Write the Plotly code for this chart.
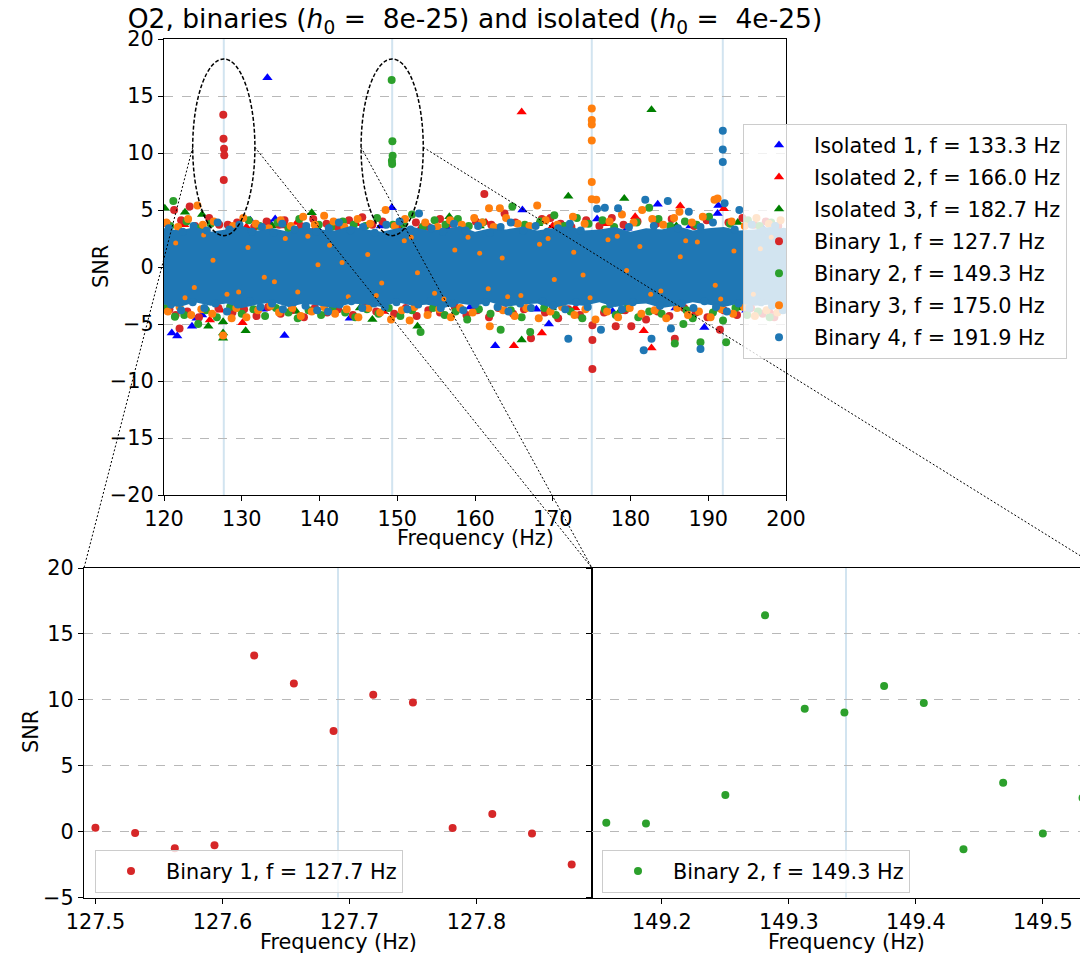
import plotly.graph_objects as go

W, H = 1088, 957          # browser window
OFF = 8                   # page body margin in the browser
FW, FH = W - OFF, H - OFF  # figure size so the figure exactly fills the window
FONT = "DejaVu Sans"

# ------------------------------------------------------------------ data
bin_freqs = [127.691, 149.345, 175.02, 191.87]
bin_labels = ["Binary 1, f = 127.7 Hz", "Binary 2, f = 149.3 Hz",
              "Binary 3, f = 175.0 Hz", "Binary 4, f = 191.9 Hz"]
iso_labels = ["Isolated 1, f = 133.3 Hz", "Isolated 2, f = 166.0 Hz",
              "Isolated 3, f = 182.7 Hz"]

# zoomed windows around binaries 1 and 2
bin1_zoom_f = [127.5, 127.53125, 127.5625, 127.59375, 127.625, 127.65625, 127.6875,
               127.71875, 127.75, 127.78125, 127.8125, 127.84375, 127.875]
bin1_zoom_snr = [0.30, -0.10, -1.26, -1.04, 13.36, 11.24, 7.63, 10.38, 9.80, 0.28,
                 1.34, -0.15, -2.50]
bin2_zoom_f = [149.15625, 149.1875, 149.25, 149.28125, 149.3125, 149.34375, 149.375,
               149.40625, 149.4375, 149.46875, 149.5, 149.53125]
bin2_zoom_snr = [0.68, 0.61, 2.78, 16.41, 9.32, 9.04, 11.04, 9.75, -1.34, 3.71, -0.15, 2.55]

# Isolated 1 (blue triangles)
iso1_f = [133.3, 149.3, 131.1, 134.3, 133.7, 166.1, 183.5, 191.3, 191.2, 175.7,
          121.0, 121.7, 123.6, 124.2, 124.9, 135.5, 143.9, 162.6, 169.5, 189.5,
          128.6, 139.7, 147.9, 156.3, 171.3, 179.6, 187.7, 196.9,
          132.7, 141.7, 150.9, 159.4, 167.9, 177.7, 185.8, 194.9]
iso1_snr = [16.6, 5.2, 4.1, 4.2, 3.8, 5.0, 5.5, 5.4, 4.7, 4.2,
            -5.8, -6.05, -5.2, -4.5, -4.2, -6.0, -4.5, -6.9, -5.0, -5.3,
            3.5, 3.4, 3.6, 3.5, 3.7, 3.4, 3.6, 3.5,
            -3.7, -3.6, -3.8, -3.5, -3.7, -3.9, -3.6, -3.8]

# Isolated 2 (red triangles)
iso2_f = [166.0, 137.1, 135.7, 186.4, 192.0, 180.6, 139.1,
          125.9, 130.1, 165.0, 168.6, 182.7, 181.7,
          122.6, 130.6, 144.7, 153.1, 161.4, 170.0, 176.9, 195.2,
          127.3, 134.0, 148.2, 155.0, 163.9, 172.9, 187.9, 198.0]
iso2_snr = [13.6, 3.9, 3.6, 5.35, 5.1, 4.4, 3.1,
            -4.65, -4.9, -6.9, -5.8, -7.1, -5.6,
            3.7, 3.5, 3.8, 3.5, 3.9, 3.6, 3.8, 3.7,
            -3.8, -3.5, -3.9, -3.6, -3.8, -3.6, -3.7, -3.9]

# Isolated 3 (green triangles)
iso3_f = [182.7, 120.1, 122.7, 124.9, 139.0, 156.7, 172.0, 179.2,
          125.7, 127.6, 127.6, 127.6, 130.5, 146.8, 152.6, 166.0,
          133.9, 142.8, 150.2, 160.6, 168.1, 185.9, 193.8, 198.8,
          129.8, 137.0, 145.2, 157.7, 169.9, 178.6, 190.9, 194.2]
iso3_snr = [13.8, 5.15, 4.8, 4.6, 4.76, 4.4, 6.2, 6.0,
            -5.2, -4.8, -5.8, -6.25, -5.6, -4.6, -5.2, -6.4,
            3.6, 3.7, 3.5, 3.6, 3.8, 3.6, 3.9, 3.5,
            -3.7, -3.9, -3.6, -3.8, -3.6, -3.9, -3.7, -3.6]

# Binary 1 (red circles), other than the zoomed window
bin1_other_f = [121.3, 123.3, 127.1, 128.2, 135.5, 145.5, 161.2, 163.8, 169.7,
                122.0, 167.2, 175.1, 175.1, 175.1, 185.7, 191.5, 178.1, 180.1,
                120.4, 122.2, 124.0, 125.8, 129.4, 131.6, 133.2, 134.8, 137.6, 139.2,
                140.9, 142.3, 143.8, 146.8, 148.1, 150.0, 152.4, 154.0, 155.5, 157.0,
                158.6, 160.1, 162.1, 165.2, 166.8, 168.6, 171.0, 172.4, 174.3, 176.0,
                177.6, 179.1, 180.9, 183.3, 185.3, 188.2, 189.8, 192.6, 194.4, 195.9,
                197.4, 199.0,
                120.7, 121.5, 123.0, 124.5, 127.0, 128.8, 130.3, 131.9, 133.4, 135.0,
                136.4, 138.0, 139.4, 141.0, 142.4, 144.3, 145.8, 147.3, 149.6, 151.1,
                152.5, 154.0, 155.5, 157.4, 158.9, 160.3, 161.8, 163.0, 164.9, 166.3,
                169.0, 170.7, 172.0, 173.5, 176.6, 179.3, 182.0, 183.5, 185.0, 186.9,
                188.4, 189.9, 192.0, 193.7, 195.5, 197.0, 198.5, 199.8]
bin1_other_snr = [5.0, 5.3, 3.7, 3.7, 4.1, 4.36, 6.4, 4.7, 4.3,
                  -5.4, -6.25, -5.1, -6.4, -8.95, -6.3, -5.5, -5.2, -5.2,
                  3.8, 4.1, 3.6, 4.3, 3.9, 3.5, 4.0, 3.7, 3.6, 4.2,
                  3.8, 3.5, 4.1, 3.7, 4.0, 3.6, 3.9, 3.5, 4.2, 3.8,
                  3.4, 4.0, 3.7, 3.9, 3.5, 4.2, 3.8, 3.5, 4.1, 3.6,
                  4.3, 3.7, 4.0, 3.8, 4.2, 3.6, 4.1, 3.9, 4.3, 3.7,
                  4.0, 3.6,
                  -3.7, -4.2, -3.9, -4.4, -3.6, -4.0, -3.7, -4.3, -3.5, -4.1,
                  -3.8, -4.4, -3.6, -4.0, -3.7, -4.2, -3.5, -3.9, -4.1, -3.6,
                  -4.3, -3.8, -4.0, -3.5, -4.2, -3.8, -4.4, -3.6, -4.1, -3.7,
                  -4.0, -4.5, -3.7, -4.2, -4.0, -3.8, -4.6, -3.9, -4.3, -3.6,
                  -4.0, -4.4, -3.8, -4.2, -3.6, -4.1, -4.4, -3.7]

# Binary 2 (green circles), other than the zoomed window
bin2_other_f = [121.2, 144.4, 151.9, 164.8, 170.2, 182.4,
                124.4, 153.0, 121.4, 163.3, 167.1, 185.7, 189.0, 192.3, 186.8,
                120.8, 122.9, 124.6, 126.0, 129.0, 130.9, 132.3, 134.6, 136.0, 137.4,
                139.9, 141.5, 143.0, 145.9, 147.4, 150.8, 153.3, 154.8, 156.2, 157.8,
                159.2, 161.0, 162.7, 166.4, 168.4, 171.5, 173.1, 174.6, 176.4, 177.9,
                180.8, 183.6, 185.1, 187.0, 188.5, 190.1, 192.8, 195.1, 196.6, 198.1,
                120.2, 122.6, 125.4, 126.8, 128.5, 130.0, 131.5, 133.0, 134.4, 136.0,
                137.2, 138.6, 140.2, 141.7, 143.3, 144.6, 146.1, 147.6, 148.9, 150.4,
                151.9, 154.6, 156.1, 157.5, 159.0, 160.5, 162.0, 164.6, 166.0, 168.9,
                170.4, 172.3, 173.8, 176.7, 178.1, 179.6, 181.0, 182.4, 184.0, 187.2,
                188.0, 190.6, 191.9, 193.5, 195.0, 196.4, 197.9, 199.4]
bin2_other_snr = [5.8, 3.7, 4.6, 5.3, 4.55, 5.2,
                  -5.0, -5.7, -4.36, -5.5, -5.7, -6.7, -6.6, -6.6, -5.0,
                  3.6, 4.0, 3.4, 3.8, 3.5, 4.1, 3.6, 3.9, 3.4, 4.2,
                  3.7, 3.5, 4.0, 3.6, 4.3, 3.8, 3.5, 4.1, 3.7, 4.2,
                  3.6, 3.9, 3.4, 3.7, 4.0, 3.6, 4.3, 3.8, 4.1, 3.5,
                  3.9, 4.2, 3.6, 4.0, 3.7, 4.4, 3.8, 4.1, 3.6, 3.9,
                  -3.6, -4.2, -3.8, -4.4, -3.5, -4.1, -3.7, -4.3, -3.6, -4.0,
                  -4.5, -3.8, -4.2, -3.5, -4.0, -4.4, -3.7, -4.1, -3.6, -4.3,
                  -3.8, -3.6, -4.2, -3.9, -4.6, -3.7, -4.1, -3.8, -4.4, -3.6,
                  -4.2, -3.9, -4.5, -3.7, -4.2, -3.6, -4.4, -3.9, -4.1, -3.8,
                  -4.5, -4.0, -4.7, -3.6, -4.2, -3.9, -4.4, -3.7]

# Binary 3 (orange circles)
bin3_f = [175.02, 175.02, 175.02, 175.02, 175.02, 175.02,
          124.3, 140.6, 148.5, 159.9, 161.8, 163.2, 168.0, 175.6, 181.5, 186.3, 190.8, 191.2,
          127.6, 128.7, 151.6, 161.9,
          120.3, 121.8, 123.1, 125.0, 126.4, 128.9, 130.2, 131.8, 133.5, 135.0,
          136.3, 137.9, 139.4, 141.8, 143.2, 144.9, 146.5, 149.7, 151.0, 153.6,
          155.2, 156.8, 158.3, 160.9, 162.4, 164.0, 165.5, 167.0, 169.1, 170.6,
          172.6, 174.1, 177.3, 178.9, 180.4, 182.8, 184.2, 185.6, 187.9, 189.3,
          193.0, 194.7, 196.2, 197.8, 199.3,
          120.5, 122.0, 123.5, 124.8, 126.2, 129.3, 130.6, 132.1, 133.7, 134.8,
          136.5, 137.6, 139.0, 140.6, 142.0, 143.5, 145.0, 146.3, 147.8, 149.2,
          150.6, 152.2, 153.9, 155.4, 156.9, 158.1, 159.7, 163.6, 165.1, 166.6,
          168.2, 169.7, 171.2, 172.8, 174.2, 175.5, 177.0, 178.4, 179.9, 181.4,
          183.1, 184.6, 186.0, 187.4, 188.8, 190.3, 191.7, 193.2, 194.6, 196.0,
          197.5, 198.9]
bin3_snr = [13.9, 12.9, 12.5, 11.1, 7.46, 5.94,
            5.4, 4.5, 5.0, 4.3, 5.15, 5.15, 5.4, 5.9, 5.0, 4.85, 5.9, 6.0,
            -6.0, -4.5, -4.7, -5.2,
            3.9, 3.5, 4.2, 3.7, 4.0, 3.6, 4.3, 3.8, 3.4, 4.1,
            3.6, 4.4, 3.7, 4.0, 3.5, 4.2, 3.8, 3.6, 4.2, 3.9,
            3.5, 4.1, 3.7, 3.9, 3.5, 4.3, 3.8, 3.6, 4.1, 3.7,
            4.4, 3.8, 4.0, 4.6, 3.9, 4.2, 3.7, 4.3, 3.9, 4.4,
            4.0, 3.6, 4.3, 3.8, 4.1,
            -3.9, -3.5, -4.2, -3.7, -4.1, -3.6, -4.4, -3.8, -3.4, -4.0,
            -3.6, -4.3, -3.9, -3.5, -4.1, -3.7, -4.4, -3.6, -4.0, -4.6,
            -3.8, -3.5, -4.2, -3.7, -4.4, -3.6, -4.0, -3.8, -4.3, -3.6,
            -4.5, -3.9, -3.5, -4.2, -3.7, -4.6, -3.9, -4.4, -3.6, -4.1,
            -3.8, -4.5, -3.6, -4.2, -3.9, -4.4, -3.7, -4.1, -3.5, -4.3,
            -3.8, -4.0]

# Binary 3 points showing through gaps of the dense binary-4 band
speck_f = [121.5, 123.9, 126.3, 128.1, 130.8, 132.9, 135.6, 137.2, 139.8, 141.3,
           143.7, 146.2, 148.0, 150.9, 152.6, 154.8, 157.4, 159.1, 161.7, 163.5,
           165.9, 168.3, 170.2, 172.7, 174.8, 177.1, 179.5, 181.2, 183.9, 186.4,
           188.6, 190.9, 193.3, 195.8, 198.1, 122.7, 125.1, 129.6, 134.2, 138.5,
           142.9, 147.3, 151.8, 156.0, 160.6, 164.2, 169.4, 173.9, 178.3, 182.6,
           187.1, 191.6, 196.7]
speck_snr = [2.1, -1.8, 0.6, -2.4, 1.7, -0.9, 2.5, -2.2, 0.2, 1.9,
             -2.6, 1.1, -1.4, 2.3, -0.5, -2.3, 1.5, 2.6, -1.9, 0.8,
             -2.5, 2.0, -1.1, 1.3, -2.7, 2.4, -0.3, 1.8, -2.1, 0.9,
             2.2, -1.6, 1.4, -2.4, 2.6, -2.7, 2.8, -2.2, -1.3, 2.7,
             0.4, -2.5, 2.6, -2.8, 1.2, -2.6, 2.5, -0.7, 2.7, -2.4,
             2.3, -2.8, 1.6]

# Binary 4 (blue circles): dense noise band envelope + edge / outlier points
band_f = [120, 122, 124, 126, 128, 130, 132, 134, 136, 138, 140, 142, 144, 146,
          148, 150, 152, 154, 156, 158, 160, 162, 164, 166, 168, 170, 172, 174,
          176, 178, 180, 182, 184, 186, 188, 190, 192, 194, 196, 198, 200]
band_upper = [3.4, 3.2, 3.5, 3.1, 3.3, 3.6, 3.2, 3.4, 3.1, 3.5, 3.3, 3.2, 3.6, 3.3,
              3.1, 3.4, 3.5, 3.2, 3.3, 3.6, 3.1, 3.4, 3.3, 3.5, 3.2, 3.4, 3.6, 3.2,
              3.3, 3.5, 3.1, 3.4, 3.3, 3.6, 3.2, 3.4, 3.5, 3.2, 3.3, 3.5, 3.3]
band_lower = [-3.3, -3.5, -3.1, -3.4, -3.2, -3.6, -3.3, -3.1, -3.5, -3.2, -3.4, -3.6,
              -3.2, -3.3, -3.5, -3.1, -3.4, -3.3, -3.6, -3.2, -3.4, -3.1, -3.5, -3.3,
              -3.2, -3.6, -3.3, -3.4, -3.1, -3.5, -3.3, -3.2, -3.6, -3.4, -3.1, -3.3,
              -3.5, -3.2, -3.4, -3.3, -3.5]
bin4_f = [191.87, 191.87, 191.87,
          120.6, 122.4, 123.8, 125.5, 126.9, 128.4, 129.7, 131.3, 132.6, 134.1,
          135.2, 136.8, 138.3, 139.6, 141.2, 142.5, 144.0, 145.6, 147.1, 148.6,
          150.3, 151.7, 152.8, 154.4, 155.9, 157.3, 158.8, 160.4, 161.9, 163.3,
          164.6, 166.2, 167.8, 169.3, 170.7, 172.2, 173.6, 175.7, 176.7, 178.4,
          179.8, 181.9, 183.0, 184.8, 186.1, 187.5, 189.0, 190.6, 192.1, 193.4,
          194.0, 195.6, 197.1, 198.6, 199.7,
          120.9, 122.2, 123.7, 125.2, 126.6, 128.1, 129.5, 131.0, 132.4, 133.9,
          135.3, 136.7, 138.2, 139.7, 141.1, 142.6, 144.1, 145.5, 147.0, 148.4,
          149.9, 151.3, 152.7, 154.2, 155.6, 157.1, 158.5, 160.0, 161.4, 162.9,
          164.3, 165.8, 167.2, 168.7, 170.1, 171.6, 172.0, 173.0, 174.5, 176.2,
          177.4, 178.9, 180.3, 181.7, 182.7, 183.8, 185.2, 186.6, 188.1, 189.0,
          189.5, 191.0, 192.4, 193.9, 195.3, 196.8, 198.2, 199.6]
bin4_snr = [11.96, 10.3, 9.2,
            3.4, 3.1, 3.6, 3.2, 3.9, 3.3, 3.7, 3.1, 3.5, 3.0,
            3.8, 3.3, 3.6, 3.1, 3.4, 3.9, 3.2, 3.5, 3.0, 3.7,
            4.0, 3.3, 4.7, 3.4, 3.1, 3.8, 3.2, 3.6, 3.0, 3.5,
            3.9, 3.2, 3.6, 3.1, 3.4, 3.8, 3.2, 5.1, 5.2, 5.15,
            3.5, 5.9, 3.6, 5.8, 3.4, 4.85, 3.5, 3.9, 5.6, 3.3,
            5.0, 3.7, 3.2, 3.6, 3.1,
            -3.3, -3.8, -3.1, -3.6, -3.2, -3.9, -3.3, -3.0, -3.5, -3.2,
            -3.7, -3.1, -3.4, -3.8, -3.9, -3.3, -3.0, -3.6, -3.2, -3.5,
            -3.1, -3.7, -3.3, -3.0, -3.6, -3.2, -3.8, -3.3, -3.1, -3.5,
            -3.9, -3.2, -3.6, -3.0, -3.4, -3.7, -6.3, -3.1, -3.5, -5.5,
            -3.3, -3.7, -3.1, -7.3, -6.3, -3.4, -5.4, -3.2, -3.6, -7.2,
            -3.0, -3.5, -3.9, -3.2, -3.6, -3.1, -3.4, -3.8]

# ------------------------------------------------------------------ layout geometry (window pixels)
top_px = dict(x0=164, x1=786, y0=39, y1=495)
bl_px = dict(x0=84, x1=592, y0=568, y1=897.5)
br_px = dict(x0=592, x1=1088, y0=568, y1=897.5)
zoom_half = 0.2
zoom_px_full = 508.0

top_xr = [120, 200]
top_yr = [-20, 20]
bl_xr = [bin_freqs[0] - zoom_half, bin_freqs[0] + zoom_half]
br_xr = [bin_freqs[1] - zoom_half,
         bin_freqs[1] - zoom_half + 2 * zoom_half * (br_px["x1"] - br_px["x0"]) / zoom_px_full]
zoom_yr = [-5, 20]

ell_w, ell_yc, ell_h = 8.0, 10.5, 15.5


def PX(px):
    return (px - OFF) / FW


def PY(py):
    return 1 - (py - OFF) / FH


def dom_x(p):
    return [max(PX(p["x0"]), 0.0), min(PX(p["x1"]), 1.0)]


def dom_y(p):
    return [PY(p["y1"]), PY(p["y0"])]


def top_to_paper(f, s):
    px = top_px["x0"] + (f - top_xr[0]) / (top_xr[1] - top_xr[0]) * (top_px["x1"] - top_px["x0"])
    py = top_px["y1"] - (s - top_yr[0]) / (top_yr[1] - top_yr[0]) * (top_px["y1"] - top_px["y0"])
    return PX(px), PY(py)


# ------------------------------------------------------------------ traces
fig = go.Figure()

c_iso = ["#0000ff", "#ff0000", "#008000"]
c_bin = ["#d62728", "#2ca02c", "#ff7f0e", "#1f77b4"]

iso_data = [(iso1_f, iso1_snr), (iso2_f, iso2_snr), (iso3_f, iso3_snr)]
for i, (fx, sy) in enumerate(iso_data):
    fig.add_trace(go.Scatter(x=fx, y=sy, mode="markers", name=iso_labels[i],
                             legendgroup="g%d" % i,
                             marker=dict(symbol="triangle-up", size=9, color=c_iso[i],
                                         line=dict(width=0)),
                             xaxis="x", yaxis="y"))

bin_data = [(bin1_zoom_f + bin1_other_f, bin1_zoom_snr + bin1_other_snr),
            (bin2_zoom_f + bin2_other_f, bin2_zoom_snr + bin2_other_snr),
            (bin3_f, bin3_snr)]
for i, (fx, sy) in enumerate(bin_data):
    fig.add_trace(go.Scatter(x=fx, y=sy, mode="markers", name=bin_labels[i],
                             legendgroup="b%d" % i,
                             marker=dict(symbol="circle", size=8, color=c_bin[i],
                                         line=dict(width=0)),
                             xaxis="x", yaxis="y"))

# dense binary-4 noise band
fig.add_trace(go.Scatter(x=band_f + band_f[::-1], y=band_upper + band_lower[::-1],
                         mode="lines", fill="toself", fillcolor=c_bin[3],
                         line=dict(width=0, color=c_bin[3]), showlegend=False,
                         hoverinfo="skip", xaxis="x", yaxis="y"))
fig.add_trace(go.Scatter(x=speck_f, y=speck_snr, mode="markers", showlegend=False,
                         marker=dict(symbol="circle", size=5, color=c_bin[2],
                                     line=dict(width=0)),
                         hoverinfo="skip", xaxis="x", yaxis="y"))
fig.add_trace(go.Scatter(x=bin4_f, y=bin4_snr, mode="markers", name=bin_labels[3],
                         legendgroup="b3",
                         marker=dict(symbol="circle", size=8, color=c_bin[3],
                                     line=dict(width=0)),
                         xaxis="x", yaxis="y"))

# zoom panels
fig.add_trace(go.Scatter(x=bin1_zoom_f, y=bin1_zoom_snr, mode="markers", name=bin_labels[0],
                         marker=dict(symbol="circle", size=8, color=c_bin[0], line=dict(width=0)),
                         xaxis="x2", yaxis="y2", legend="legend2"))
fig.add_trace(go.Scatter(x=bin2_zoom_f, y=bin2_zoom_snr, mode="markers", name=bin_labels[1],
                         marker=dict(symbol="circle", size=8, color=c_bin[1], line=dict(width=0)),
                         xaxis="x3", yaxis="y3", legend="legend3"))

# ------------------------------------------------------------------ axes
tickfont = dict(family=FONT, size=20.8, color="black")


def xax(domain, rng, anchor, dtick, tick0, mirror=True):
    return dict(domain=domain, range=rng, anchor=anchor, showline=True, linecolor="black",
                linewidth=1.3, mirror=mirror, ticks="outside", ticklen=5, tickwidth=1.2,
                tickcolor="black", tickfont=tickfont, showgrid=False, zeroline=False,
                dtick=dtick, tick0=tick0, fixedrange=True, automargin=False)


def yax(domain, rng, anchor, dtick, labels=True, mirror=True):
    return dict(domain=domain, range=rng, anchor=anchor, showline=True, linecolor="black",
                linewidth=1.3, mirror=mirror, ticks="outside", ticklen=5, tickwidth=1.2,
                tickcolor="black", tickfont=tickfont, showgrid=True, gridcolor="#b8b8b8",
                griddash="dash", gridwidth=1, zeroline=False, dtick=dtick, tick0=0,
                showticklabels=labels, fixedrange=True, automargin=False)


leg_common = dict(xanchor="left", yanchor="top", bgcolor="rgba(255,255,255,0.8)",
                  bordercolor="#cccccc", borderwidth=1,
                  font=dict(family=FONT, size=20.8, color="black"), itemwidth=60)

layout = dict(
    template="none",
    width=FW, height=FH, autosize=False,
    margin=dict(l=0, r=0, t=0, b=0, pad=0, autoexpand=False),
    paper_bgcolor="white", plot_bgcolor="white",
    font=dict(family=FONT, size=20.8, color="black"),
    xaxis=xax(dom_x(top_px), top_xr, "y", 10, 120),
    yaxis=yax(dom_y(top_px), top_yr, "x", 5),
    xaxis2=xax(dom_x(bl_px), bl_xr, "y2", 0.1, 127.5),
    yaxis2=yax(dom_y(bl_px), zoom_yr, "x2", 5),
    xaxis3=xax(dom_x(br_px), br_xr, "y3", 0.1, 149.2),
    yaxis3=yax(dom_y(br_px), zoom_yr, "x3", 5, labels=False, mirror=False),
    title=dict(text="O2, binaries (<i>h</i><sub>0</sub> =  8e-25) and isolated (<i>h</i><sub>0</sub> =  4e-25)",
               x=PX(475), xanchor="center", xref="paper", y=PY(19), yanchor="middle",
               yref="paper", automargin=False,
               font=dict(family=FONT, size=26.5, color="black")),
    legend=dict(x=PX(743), y=PY(124), tracegroupgap=2, traceorder="grouped",
                entrywidth=330, entrywidthmode="pixels", **leg_common),
    legend2=dict(x=PX(95), y=PY(850), **leg_common),
    legend3=dict(x=PX(602), y=PY(850), **leg_common),
)
fig.update_layout(**layout)

# ------------------------------------------------------------------ shapes
shapes = []
vcol = "rgba(31,119,180,0.2)"
for f in bin_freqs:
    shapes.append(dict(type="line", xref="x", yref="y domain", x0=f, x1=f, y0=0, y1=1,
                       line=dict(color=vcol, width=2), layer="below"))
shapes.append(dict(type="line", xref="x2", yref="y2 domain", x0=bin_freqs[0], x1=bin_freqs[0],
                   y0=0, y1=1, line=dict(color=vcol, width=2), layer="below"))
shapes.append(dict(type="line", xref="x3", yref="y3 domain", x0=bin_freqs[1], x1=bin_freqs[1],
                   y0=0, y1=1, line=dict(color=vcol, width=2), layer="below"))

for f in bin_freqs[:2]:
    shapes.append(dict(type="circle", xref="x", yref="y", x0=f - ell_w / 2, x1=f + ell_w / 2,
                       y0=ell_yc - ell_h / 2, y1=ell_yc + ell_h / 2,
                       line=dict(color="black", width=1.5, dash="4px,2px"), layer="above"))

# connectors from ellipses to zoom panels
bl_top = PY(bl_px["y0"])
br_full_right = PX(br_px["x0"] + zoom_px_full)
conn = [
    (top_to_paper(bin_freqs[0] - ell_w / 2, ell_yc), (PX(bl_px["x0"]), bl_top)),
    (top_to_paper(bin_freqs[0] + ell_w / 2, ell_yc), (PX(bl_px["x1"]), bl_top)),
    (top_to_paper(bin_freqs[1] - ell_w / 2, ell_yc), (PX(br_px["x0"]), bl_top)),
    (top_to_paper(bin_freqs[1] + ell_w / 2, ell_yc), (br_full_right, bl_top)),
]
for (a, b) in conn:
    shapes.append(dict(type="line", xref="paper", yref="paper", x0=a[0], y0=a[1],
                       x1=b[0], y1=b[1], line=dict(color="black", width=1, dash="2px,2px"),
                       layer="above"))
fig.update_layout(shapes=shapes)

# ------------------------------------------------------------------ axis titles
ann_font = dict(family=FONT, size=20.8, color="black")
annotations = [
    dict(text="SNR", x=PX(101), y=PY(267), textangle=-90),
    dict(text="Frequency (Hz)", x=PX(475), y=PY(538)),
    dict(text="SNR", x=PX(31), y=PY(732), textangle=-90),
    dict(text="Frequency (Hz)", x=PX(338), y=PY(942)),
    dict(text="Frequency (Hz)", x=PX(846), y=PY(942)),
]
for a in annotations:
    a.update(xref="paper", yref="paper", showarrow=False, font=ann_font,
             xanchor="center", yanchor="middle")
fig.update_layout(annotations=annotations)

fig.write_html("out.html")
